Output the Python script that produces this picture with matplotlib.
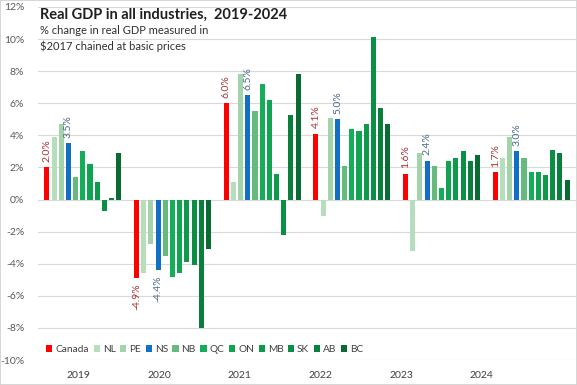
import matplotlib
matplotlib.use('Agg')
import matplotlib.pyplot as plt
from matplotlib.patches import Patch, Rectangle

plt.rcParams['font.family'] = ['Lato', 'DejaVu Sans']

years = ['2019', '2020', '2021', '2022', '2023', '2024']
regions = ['Canada', 'NL', 'PE', 'NS', 'NB', 'QC', 'ON', 'MB', 'SK', 'AB', 'BC']

gdp_2019 = [2.0, 3.9, 4.7, 3.5, 1.4, 3.0, 2.2, 1.1, -0.7, 0.1, 2.9]
gdp_2020 = [-4.9, -4.6, -2.8, -4.4, -3.5, -4.8, -4.6, -3.9, -4.1, -8.0, -3.1]
gdp_2021 = [6.0, 1.1, 7.8, 6.5, 5.5, 7.2, 6.2, 1.6, -2.2, 5.3, 7.8]
gdp_2022 = [4.1, -1.0, 5.1, 5.0, 2.1, 4.4, 4.3, 4.7, 10.1, 5.7, 4.7]
gdp_2023 = [1.6, -3.2, 2.9, 2.4, 2.1, 0.7, 2.4, 2.6, 3.0, 2.4, 2.8]
gdp_2024 = [1.7, 2.6, 3.9, 3.0, 2.6, 1.7, 1.7, 1.5, 3.1, 2.9, 1.2]
gdp_by_year = [gdp_2019, gdp_2020, gdp_2021, gdp_2022, gdp_2023, gdp_2024]

labelled = ['Canada', 'NS']

colors = ['#FF0000', '#B6DDBC', '#A2D3AA', '#1170C4', '#66BB7C', '#14AD5A',
          '#10A452', '#0D9A4B', '#0B8F45', '#0A7F3D', '#086B33']
label_colors = {'Canada': '#A83434', 'NS': '#4A6A8A'}

W, H = 577, 385
fig = plt.figure(figsize=(W / 100, H / 100), dpi=100)
ax = fig.add_axes([38 / W, 1 - 360 / H, 538 / W, 353 / H])

group_pitch = 12.5
for g, vals in enumerate(gdp_by_year):
    for j, v in enumerate(vals):
        x = g * group_pitch + j
        ax.bar(x, v, width=0.7, color=colors[j], zorder=3)
        if regions[j] in labelled:
            txt = f'{v:.1f}%'
            if v >= 0:
                ax.annotate(txt, (x, v), xytext=(0, 4), textcoords='offset points',
                            rotation=90, ha='center', va='bottom', fontsize=7.5,
                            color=label_colors[regions[j]], zorder=4)
            else:
                ax.annotate(txt, (x, v), xytext=(0, -4), textcoords='offset points',
                            rotation=90, ha='center', va='top', fontsize=7.5,
                            color=label_colors[regions[j]], zorder=4)

ax.set_xlim(-1.25, 6 * group_pitch - 1.25)
ax.set_ylim(-10, 12)
yt = list(range(-10, 13, 2))
ax.set_yticks(yt)
ax.set_yticklabels([f'{t}%' for t in yt])
ax.yaxis.grid(True, color='#d9d9d9', lw=0.8, zorder=0)
ax.tick_params(axis='y', length=0, pad=10, labelsize=7.5, labelcolor='#595959')

label_x = [4.4 + 11.24 * g for g in range(len(years))]
ax.set_xticks(label_x)
ax.set_xticklabels(years)
ax.tick_params(axis='x', length=0, pad=8, labelsize=7.5, labelcolor='#404040')
for s in ax.spines.values():
    s.set_visible(False)

handles = [Patch(facecolor=c, edgecolor='none') for c in colors]
leg = ax.legend(handles, regions, ncol=11, loc='center left',
                bbox_to_anchor=(0.008, 0.03), frameon=False, fontsize=7.3,
                handlelength=0.6, handleheight=0.6, handletextpad=0.3,
                columnspacing=0.45, borderaxespad=0)
for t in leg.get_texts():
    t.set_color('#404040')

fig.text(40 / W, 1 - 15 / H, 'Real GDP in all industries,  2019-2024', fontsize=10.5,
         fontweight='bold', color='#202020', va='center', ha='left')
fig.text(40 / W, 1 - 31 / H, '% change in real GDP measured in', fontsize=8,
         color='#303030', va='center', ha='left')
fig.text(40 / W, 1 - 46 / H, '$2017 chained at basic prices', fontsize=8,
         color='#303030', va='center', ha='left')

fig.patches.append(Rectangle((0, 0), 1, 1, transform=fig.transFigure, fill=False,
                             edgecolor='#d0d0d0', lw=1.2))

fig.savefig('out.png', dpi=100)
